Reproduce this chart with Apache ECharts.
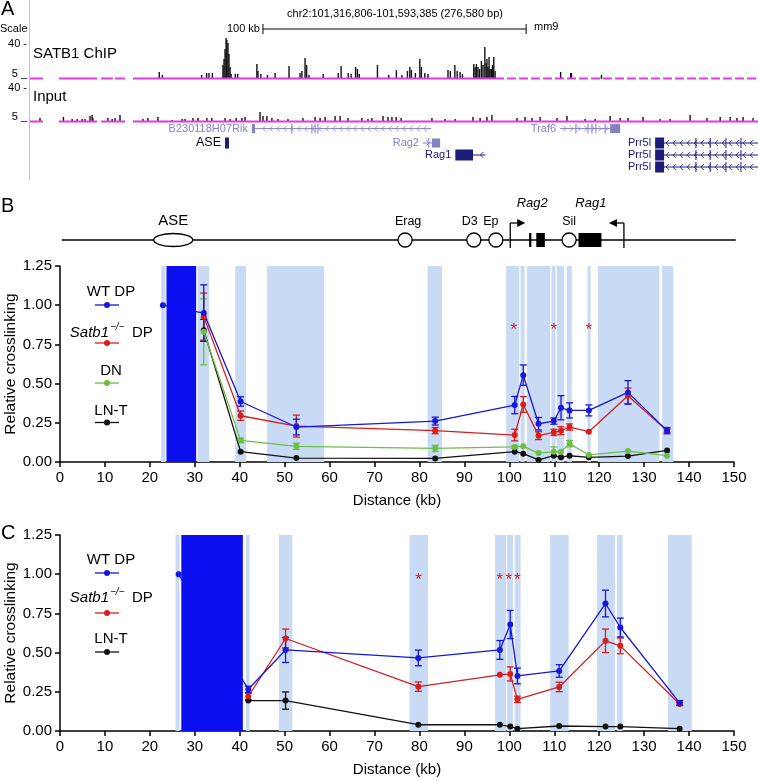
<!DOCTYPE html>
<html>
<head>
<meta charset="utf-8">
<script src="https://cdn.jsdelivr.net/npm/echarts@6/dist/echarts.min.js"></script>
<style>html,body{margin:0;padding:0;background:#fff}#main{width:758px;height:780px}</style>
</head>
<body>
<div id="main"></div>
<script>
var FONT = '"Liberation Sans", Arial, Helvetica, sans-serif';

// ---- panel A : browser window, positions in kb from window start, heights in track units
var winKb = 276.58;
var chipPeaks = [[49.1,7],[50.3,4],[65.2,4],[67.1,6],[68.0,6],[69.3,6],
  [73.3,14],[73.7,20],[74.1,30],[74.5,41],[74.8,39],[75.2,36],[75.6,25],[76.0,12],[76.4,5],
  [78.0,5],[78.9,5],[86.2,15],[86.6,8],[87.7,5],[90.2,4],[93.1,6],[98.4,13],
  [102.6,6],[103.3,8],[104.5,21],[105.1,14],[106.0,4],[111.4,5],[117.1,6],[118.2,13],
  [120.9,6],[122.0,5],[123.7,12],[124.4,10],[125.1,5],[132.0,14],[136.3,4],[139.2,9],
  [141.3,4],[143.4,8],[144.3,12],[144.9,9],[146.4,6],[148.1,20],[148.7,12],[150.0,6],[151.2,5],
  [158.8,9],[159.7,8],[161.4,14],[162.3,8],[163.4,7],[164.3,5],
  [168.6,15],[169.1,12],[169.6,15],[170.2,12],[170.8,10],[171.5,18],[172.1,14],[172.8,32],
  [173.3,16],[173.6,20],[174.0,12],[174.4,22],[174.8,10],[175.3,10],[175.7,14],[176.2,22],[176.7,8],
  [201.6,7],[205.4,6],[205.7,6],[217.1,4]];
var inputPeaks = [[3.8,4],[12.7,5],[16.0,3],[17.9,3],[19.8,3],[20.9,3],[22.8,6],[23.6,7],[23.9,4],
  [29.6,4],[31.2,3],[32.3,4],[34.2,7],[42.9,3],[44.8,4],[48.6,5],[54.0,2],[57.8,3],[58.9,3],
  [61.9,4],[63.8,4],[67.2,4],[69.1,4],[74.1,4],[76.0,3],[78.3,4],[80.5,4],[81.7,5],[87.4,10],
  [88.5,6],[90.0,6],[91.9,4],[94.2,3],[98.0,3],[103.7,4],[108.3,5],[110.2,4],[112.1,5],[115.9,6],
  [117.8,6],[120.8,4],[126.1,4],[128.4,3],[129.9,4],[134.1,6],[136.0,5],[137.5,5],[139.1,5],
  [141.0,4],[152.7,4],[157.7,3],[161.5,3],[168.3,5],[171.0,4],[173.6,5],[175.5,7],[185.0,4],
  [188.1,5],[190.7,4],[193.8,5],[200.2,4],[204.0,6],[210.9,3],[214.7,3],[220.4,6],[224.2,4],
  [227.2,4],[232.9,5],[239.4,3],[243.2,3],[250.8,7],[257.2,4],[262.2,5],[266.0,5],[268.6,4],
  [270.9,5],[274.7,4]];
var chipCover = [[0,4.9],[11.0,25.5],[27.0,31.5],[32.3,36.1],[39.1,176.7]];
var chipSparse = [[176.7,276.58]];
var inputCover = [[0,4.9],[11.0,25.5],[27.0,36.1],[39.1,276.58]];
var scaleBarKb = [88.5, 188.5];

var geneNames  = ['B230118H07Rik','ASE','Rag2','Rag1','Traf6','Prr5l','Prr5l','Prr5l'];
var geneStart  = [84.3, 74.1, 149.3, 161.6, 201.4, 237.5, 237.5, 237.5];
var geneEnd    = [152.4, 75.6, 155.8, 173.0, 224.2, 276.58, 276.58, 276.58];
var geneRow    = [0.8, 2, 2, 3, 0.8, 2, 3, 4];
var geneStrand = [-1, 0, 1, -1, 1, -1, -1, -1];
var geneDark   = [0, 1, 0, 1, 0, 1, 1, 1];
var exonStart  = [84.3, 74.1, 152.7, 161.6, 220.4, 237.5, 237.5, 237.5];
var exonEnd    = [85.5, 75.6, 155.8, 168.3, 224.2, 240.9, 240.9, 240.9];
var geneMarks  = [[99.5,107.1,108.3,109.4],[],[151.5],[],[207.4,212,213.5,215,218.5],
  [253,258.4,264.4,270.1],[253,258.4,264.4,270.1],[253,258.4,264.4,270.1]];

// ---- panel B schematic (kb, same axis as the plot)
var lineSpan  = [[0.4, 150.4]];
var featKb    = [25.2, 76.8, 92.1, 97.0, 113.3];
var featShape = ['ellipse','circle','circle','circle','circle'];
var featName  = ['ASE','Erag','D3','Ep','Sil'];
var featDx    = [0, 3, -4, -5, 0];
var exKbS = [104.4, 106.0, 115.4];
var exKbE = [104.9, 107.9, 120.5];
var tssKb = [100.2, 125.5];
var tssDir = [1, -1];
var tssName = ['Rag2','Rag1'];
var tssDx = [22, -33];

// ---- panel B data
var bAnchor = [22.9, 1.0];
var bDist  = [32.0, 40.2, 52.6, 83.5, 101.2, 103.1, 106.5, 109.9, 111.5, 113.4, 117.7, 126.4, 135.1];
var bWT    = [0.95, 0.386, 0.223, 0.261, 0.363, 0.554, 0.244, 0.261, 0.346, 0.329, 0.329, 0.444, 0.20];
var bWTerr = [0.18, 0.03, 0.05, 0.025, 0.055, 0.065, 0.04, 0.02, 0.077, 0.048, 0.035, 0.075, 0.02];
var bKO    = [0.927, 0.295, 0.229, 0.20, 0.172, 0.367, 0.168, 0.189, 0.20, 0.223, 0.193, 0.422, 0.20];
var bKOerr = [0.15, 0.03, 0.07, 0.02, 0.037, 0.05, 0.025, 0.02, 0.025, 0.02, 0, 0.05, 0.01];
var bDN    = [0.83, 0.138, 0.10, 0.087, 0.096, 0.10, 0.057, 0.066, 0.066, 0.117, 0.045, 0.07, 0.04];
var bDNerr = [0.21, 0.015, 0.02, 0.02, 0.01, 0, 0, 0.03, 0, 0.02, 0, 0, 0];
var bLN    = [0.84, 0.066, 0.025, 0.023, 0.066, 0.053, 0.013, 0.04, 0.03, 0.04, 0.03, 0.038, 0.074];
var bLNerr = [0.07, 0, 0, 0, 0, 0, 0, 0, 0, 0, 0, 0, 0];
var bBands = [[22.5,23.5],[30.6,33.2],[39.0,41.4],[46.1,58.8],[81.8,85.0],[99.3,102.2],[102.5,103.4],
  [103.9,109.1],[109.4,110.3],[110.6,112.2],[112.8,113.9],[117.4,118.1],[119.7,133.4],[134.0,136.5]];
var bBait = [[23.7, 30.3]];
var bStars = [101.0, 109.9, 117.7];
var bStarY = 0.86;

// ---- panel C data
var cAnchor = [26.4, 1.0];
var cDist  = [41.9, 50.2, 79.75, 97.9, 100.2, 101.8, 111.1, 121.4, 124.7, 137.9];
var cWT    = [0.266, 0.517, 0.466, 0.517, 0.679, 0.351, 0.383, 0.813, 0.66, 0.179];
var cWTerr = [0.02, 0.08, 0.05, 0.06, 0.09, 0.05, 0.04, 0.085, 0.06, 0.015];
var cKO    = [0.22, 0.59, 0.283, 0.358, 0.364, 0.202, 0.281, 0.575, 0.543, 0.172];
var cKOerr = [0.02, 0.06, 0.03, 0, 0.045, 0.02, 0.03, 0.075, 0.05, 0.01];
var cLN    = [0.194, 0.194, 0.04, 0.04, 0.028, 0.015, 0.032, 0.028, 0.028, 0.015];
var cLNerr = [0, 0.055, 0, 0, 0, 0, 0, 0, 0, 0];
var cBands = [[25.7,26.6],[41.4,42.2],[48.7,51.7],[77.8,81.9],[96.8,99.3],[99.5,100.8],[101.2,102.5],
  [109.1,113.2],[119.5,123.5],[124.0,125.2],[135.3,140.6]];
var cBait = [[27.0, 40.7]];
var cStars = [79.8, 97.9, 99.9, 101.8];
var cStarY = 0.98;

var C_WT = '#1717d9', C_KO = '#d41f1f', C_DN = '#6cbf46', C_LN = '#111111';
var BAND = '#c9daf4', BAIT = '#0b0ff0', MAG = '#e03ae0';
var NAVY = '#1b1b78', SLATE = '#8282c0';

function zip() {
  var a = arguments;
  return a[0].map(function (_, i) {
    return Array.prototype.map.call(a, function (arr) { return arr[i]; });
  });
}

function txt(x, y, s, size, o) {
  o = o || {};
  return {type: 'text', x: x, y: y, z: 20, silent: true,
    style: {text: s, fontSize: size, fontFamily: FONT, fill: o.fill || '#000',
      align: o.align || 'left', verticalAlign: o.va || 'middle',
      fontStyle: o.italic ? 'italic' : 'normal'}};
}

// peaks of the browser tracks
function peakItem(params, api) {
  var b = api.coord([api.value(0), 0]);
  var t = api.coord([api.value(0), api.value(1)]);
  return {type: 'rect', shape: {x: b[0] - 0.7, y: t[1], width: 1.4, height: b[1] - t[1]}, style: {fill: '#111'}};
}
function coverItem(dash) {
  return function (params, api) {
    var a = api.coord([api.value(0), 0]), b = api.coord([api.value(1), 0]);
    return {type: 'line', shape: {x1: a[0], y1: a[1] - 0.5, x2: b[0], y2: b[1] - 0.5},
      style: {stroke: MAG, lineWidth: 2, lineDash: dash}};
  };
}

function geneItem(params, api) {
  var i = params.dataIndex;
  var s = api.coord([geneStart[i], geneRow[i]]);
  var e = api.coord([geneEnd[i], geneRow[i]]);
  var y = s[1];
  var col = geneDark[i] ? NAVY : SLATE;
  var kids = [{type: 'line', shape: {x1: s[0], y1: y, x2: e[0], y2: y}, style: {stroke: col, lineWidth: 1}}];
  var es = api.coord([exonStart[i], 0])[0], ee = api.coord([exonEnd[i], 0])[0];
  var d = geneStrand[i];
  if (d !== 0) {
    for (var x = s[0] + 5; x < e[0] - 3; x += 7) {
      if (x > es - 3 && x < ee + 3) continue;
      kids.push({type: 'polyline', shape: {points: [[x - d * 2, y - 3], [x + d * 1, y], [x - d * 2, y + 3]]},
        style: {stroke: col, fill: null, lineWidth: 0.8}});
    }
  }
  geneMarks[i].forEach(function (k) {
    var mx = api.coord([k, 0])[0];
    kids.push({type: 'line', shape: {x1: mx, y1: y - 5, x2: mx, y2: y + 5}, style: {stroke: col, lineWidth: 1}});
  });
  var h = geneDark[i] ? 11 : 9;
  kids.push({type: 'rect', shape: {x: es, y: y - h / 2, width: Math.max(ee - es, 2), height: h}, style: {fill: col}});
  kids.push({type: 'text', x: s[0] - 4, y: y, style: {text: geneNames[i], fontSize: geneNames[i] === 'ASE' ? 12.5 : 11,
    fontFamily: FONT, fill: geneNames[i] === 'ASE' ? '#000' : col, align: 'right', verticalAlign: 'middle'}});
  return {type: 'group', children: kids};
}

function scaleItem(params, api) {
  var a = api.coord([api.value(0), 45]), b = api.coord([api.value(1), 45]);
  var y = a[1] - 5;
  var st = {stroke: '#000', lineWidth: 1};
  return {type: 'group', children: [
    {type: 'line', shape: {x1: a[0], y1: y, x2: b[0], y2: y}, style: st},
    {type: 'line', shape: {x1: a[0], y1: y - 5, x2: a[0], y2: y + 5}, style: st},
    {type: 'line', shape: {x1: b[0], y1: y - 5, x2: b[0], y2: y + 5}, style: st},
    {type: 'text', x: a[0] - 3, y: y, style: {text: '100 kb', fontSize: 11, fontFamily: FONT, fill: '#000', align: 'right', verticalAlign: 'middle'}}
  ]};
}

// schematic
function spanItem(params, api) {
  var a = api.coord([api.value(0), 0]), b = api.coord([api.value(1), 0]);
  return {type: 'line', shape: {x1: a[0], y1: a[1], x2: b[0], y2: b[1]}, style: {stroke: '#000', lineWidth: 1.5}};
}
function featItem(params, api) {
  var i = params.dataIndex;
  var p = api.coord([featKb[i], 0]);
  var st = {fill: '#fff', stroke: '#000', lineWidth: 1.3};
  var shape = featShape[i] === 'ellipse'
    ? {type: 'ellipse', shape: {cx: p[0], cy: p[1], rx: 19.5, ry: 6.5}, style: st}
    : {type: 'circle', shape: {cx: p[0], cy: p[1], r: 7}, style: st};
  var big = featShape[i] === 'ellipse';
  return {type: 'group', children: [shape,
    {type: 'text', x: p[0] + featDx[i], y: p[1] - (big ? 19 : 18), style: {text: featName[i], fontSize: big ? 15 : 12.5,
      fontFamily: FONT, fill: '#000', align: 'center', verticalAlign: 'middle'}}]};
}
function exonItem(params, api) {
  var a = api.coord([api.value(0), 0]), b = api.coord([api.value(1), 0]);
  return {type: 'rect', shape: {x: a[0], y: a[1] - 7, width: Math.max(b[0] - a[0], 2), height: 14}, style: {fill: '#000'}};
}
function tssItem(params, api) {
  var i = params.dataIndex;
  var p = api.coord([tssKb[i], 0]);
  var d = tssDir[i];
  var top = p[1] - 17, x0 = p[0];
  var st = {stroke: '#000', lineWidth: 1.3};
  return {type: 'group', children: [
    {type: 'line', shape: {x1: x0, y1: p[1] + 8, x2: x0, y2: top}, style: st},
    {type: 'line', shape: {x1: x0, y1: top, x2: x0 + d * 8, y2: top}, style: st},
    {type: 'polygon', shape: {points: [[x0 + d * 7, top - 4], [x0 + d * 15, top], [x0 + d * 7, top + 4]]}, style: {fill: '#000'}},
    {type: 'text', x: x0 + tssDx[i], y: p[1] - 37, style: {text: tssName[i], fontSize: 13, fontStyle: 'italic',
      fontFamily: FONT, fill: '#000', align: 'center', verticalAlign: 'middle'}}
  ]};
}

// plot pieces
function bandSeries(g, data, color, z) {
  return {type: 'custom', xAxisIndex: g, yAxisIndex: g, z: z, silent: true, data: data, encode: {x: [0, 1]},
    renderItem: function (params, api) {
      var a = api.coord([api.value(0), 1.25]), b = api.coord([api.value(1), 0]);
      return {type: 'rect', shape: {x: a[0], y: a[1], width: b[0] - a[0], height: b[1] - a[1]}, style: {fill: color}};
    }};
}
function errSeries(g, xs, ys, es, color) {
  return {type: 'custom', xAxisIndex: g, yAxisIndex: g, z: 3, silent: true, data: zip(xs, ys, es), encode: {x: 0, y: 1},
    renderItem: function (params, api) {
      var x = api.value(0), y = api.value(1), e = api.value(2);
      if (!e) return null;
      var t = api.coord([x, y + e]), b = api.coord([x, y - e]), w = 3.5;
      var st = {stroke: color, lineWidth: 1.3};
      return {type: 'group', children: [
        {type: 'line', shape: {x1: t[0], y1: t[1], x2: b[0], y2: b[1]}, style: st},
        {type: 'line', shape: {x1: t[0] - w, y1: t[1], x2: t[0] + w, y2: t[1]}, style: st},
        {type: 'line', shape: {x1: b[0] - w, y1: b[1], x2: b[0] + w, y2: b[1]}, style: st}]};
    }};
}
function lineSeries(g, pts, color) {
  return {type: 'line', xAxisIndex: g, yAxisIndex: g, z: 4, silent: true, data: pts, symbol: 'circle', symbolSize: 6,
    itemStyle: {color: color}, lineStyle: {color: color, width: 1.3}};
}
function starSeries(g, xs, y) {
  return {type: 'custom', xAxisIndex: g, yAxisIndex: g, z: 6, silent: true, data: xs.map(function (x) { return [x, y]; }),
    encode: {x: 0, y: 1},
    renderItem: function (params, api) {
      var p = api.coord([api.value(0), api.value(1)]);
      return {type: 'text', x: p[0], y: p[1] + 3, style: {text: '*', fontSize: 17, fontFamily: FONT, fill: C_KO,
        align: 'center', verticalAlign: 'middle'}};
    }};
}

function plotAxes(g) {
  var line = {show: true, lineStyle: {color: '#000', width: 1.5}};
  var tick = {show: true, length: 5, lineStyle: {color: '#000', width: 1.5}};
  var lab = {color: '#000', fontSize: 15, fontFamily: FONT};
  return {
    x: {gridIndex: g, type: 'value', min: 0, max: 150, interval: 10, axisLine: line, axisTick: tick,
      axisLabel: Object.assign({margin: 8}, lab), splitLine: {show: false},
      name: 'Distance (kb)', nameLocation: 'middle', nameGap: 31, nameMoveOverlap: false, nameTextStyle: lab},
    y: {gridIndex: g, type: 'value', min: 0, max: 1.25, interval: 0.25, axisLine: line, axisTick: tick,
      axisLabel: Object.assign({margin: 8, formatter: function (v) { return v.toFixed(2); }}, lab),
      splitLine: {show: false},
      name: 'Relative crosslinking', nameLocation: 'middle', nameGap: 41, nameRotate: 90, nameMoveOverlap: false,
      nameTextStyle: {color: '#000', fontSize: 15.5, fontFamily: FONT}}
  };
}
function hidden(g, min, max, inv) {
  return {gridIndex: g, type: 'value', min: min, max: max, show: false, inverse: !!inv, splitLine: {show: false}};
}

var axB = plotAxes(4), axC = plotAxes(5);

function legItem(yt, ys, color, label) {
  var out = [
    {type: 'line', z: 20, silent: true, shape: {x1: 95, y1: ys, x2: 119, y2: ys}, style: {stroke: color, lineWidth: 1.3}},
    {type: 'circle', z: 21, silent: true, shape: {cx: 107, cy: ys, r: 3}, style: {fill: color}}
  ];
  if (label === 'Satb1') {
    out.push(txt(109, yt, 'Satb1', 15, {align: 'right', italic: true}));
    out.push(txt(110, yt - 6, '\u2212/\u2212', 10, {italic: true}));
    out.push(txt(132, yt, 'DP', 15));
  } else {
    out.push(txt(111, yt, label, 15, {align: 'center'}));
  }
  return out;
}

var graphics = [
  {type: 'line', silent: true, z: 1, shape: {x1: 29.5, y1: 0, x2: 29.5, y2: 180}, style: {stroke: '#f0b0b0', lineWidth: 1}},
  txt(1, 9, 'A', 20), txt(1, 206, 'B', 20), txt(1, 533, 'C', 20),
  txt(0, 29, 'Scale', 11),
  txt(395, 14, 'chr2:101,316,806-101,593,385 (276,580 bp)', 11, {align: 'center'}),
  txt(534, 27, 'mm9', 11),
  txt(27, 44, '40 -', 11, {align: 'right'}), txt(27, 74, '5 _', 11, {align: 'right'}),
  txt(27, 88, '40 -', 11, {align: 'right'}), txt(27, 117, '5 _', 11, {align: 'right'}),
  txt(33, 54, 'SATB1 ChIP', 15), txt(33, 97, 'Input', 15)
].concat(
  legItem(292, 305, C_WT, 'WT DP'), legItem(333, 343, C_KO, 'Satb1'),
  legItem(371, 383, C_DN, 'DN'), legItem(411, 422.5, C_LN, 'LN-T'),
  legItem(560, 573, C_WT, 'WT DP'), legItem(598, 613, C_KO, 'Satb1'), legItem(639, 652, C_LN, 'LN-T')
);

function gridBox(o) {
  o.containLabel = false;
  o.outerBoundsMode = 'none';
  return o;
}

var option = {
  animation: false,
  backgroundColor: '#fff',
  textStyle: {fontFamily: FONT},
  grid: [
    gridBox({left: 30, width: 728, top: 34, height: 45}),
    gridBox({left: 30, width: 728, top: 77, height: 45}),
    gridBox({left: 30, width: 728, top: 119, height: 60}),
    gridBox({left: 60, width: 674, top: 210, height: 60}),
    gridBox({left: 60, width: 674, top: 266, height: 196}),
    gridBox({left: 60, width: 674, top: 535, height: 196})
  ],
  xAxis: [hidden(0, 0, winKb), hidden(1, 0, winKb), hidden(2, 0, winKb), hidden(3, 0, 150), axB.x, axC.x],
  yAxis: [hidden(0, 0, 45), hidden(1, 0, 45), hidden(2, 0, 5, true), hidden(3, -1, 1), axB.y, axC.y],
  graphic: graphics,
  series: [
    {type: 'custom', xAxisIndex: 0, yAxisIndex: 0, z: 2, silent: true, data: chipPeaks, encode: {x: 0, y: 1}, renderItem: peakItem},
    {type: 'custom', xAxisIndex: 0, yAxisIndex: 0, z: 3, silent: true, data: chipCover, encode: {x: [0, 1]}, renderItem: coverItem(null)},
    {type: 'custom', xAxisIndex: 0, yAxisIndex: 0, z: 3, silent: true, data: chipSparse, encode: {x: [0, 1]}, renderItem: coverItem([9, 3])},
    {type: 'custom', xAxisIndex: 0, yAxisIndex: 0, z: 3, silent: true, data: [scaleBarKb], encode: {x: [0, 1]}, renderItem: scaleItem},
    {type: 'custom', xAxisIndex: 1, yAxisIndex: 1, z: 2, silent: true, data: inputPeaks, encode: {x: 0, y: 1}, renderItem: peakItem},
    {type: 'custom', xAxisIndex: 1, yAxisIndex: 1, z: 3, silent: true, data: inputCover, encode: {x: [0, 1]}, renderItem: coverItem(null)},
    {type: 'custom', xAxisIndex: 2, yAxisIndex: 2, z: 3, silent: true,
      data: zip(geneStart, geneEnd, geneRow), encode: {x: [0, 1], y: 2}, renderItem: geneItem},

    {type: 'custom', xAxisIndex: 3, yAxisIndex: 3, z: 2, silent: true, data: lineSpan, encode: {x: [0, 1]}, renderItem: spanItem},
    {type: 'custom', xAxisIndex: 3, yAxisIndex: 3, z: 3, silent: true, data: zip(exKbS, exKbE), encode: {x: [0, 1]}, renderItem: exonItem},
    {type: 'custom', xAxisIndex: 3, yAxisIndex: 3, z: 3, silent: true, data: tssKb.map(function (k) { return [k, 0]; }), encode: {x: 0, y: 1}, renderItem: tssItem},
    {type: 'custom', xAxisIndex: 3, yAxisIndex: 3, z: 4, silent: true, data: featKb.map(function (k) { return [k, 0]; }), encode: {x: 0, y: 1}, renderItem: featItem},

    bandSeries(4, bBands, BAND, 1),
    errSeries(4, bDist, bLN, bLNerr, C_LN), lineSeries(4, zip(bDist, bLN), C_LN),
    errSeries(4, bDist, bDN, bDNerr, C_DN), lineSeries(4, zip(bDist, bDN), C_DN),
    errSeries(4, bDist, bKO, bKOerr, C_KO), lineSeries(4, zip(bDist, bKO), C_KO),
    errSeries(4, bDist, bWT, bWTerr, C_WT), lineSeries(4, [bAnchor].concat(zip(bDist, bWT)), C_WT),
    bandSeries(4, bBait, BAIT, 8),
    starSeries(4, bStars, bStarY),

    bandSeries(5, cBands, BAND, 1),
    errSeries(5, cDist, cLN, cLNerr, C_LN), lineSeries(5, zip(cDist, cLN), C_LN),
    errSeries(5, cDist, cKO, cKOerr, C_KO), lineSeries(5, zip(cDist, cKO), C_KO),
    errSeries(5, cDist, cWT, cWTerr, C_WT), lineSeries(5, [cAnchor].concat(zip(cDist, cWT)), C_WT),
    bandSeries(5, cBait, BAIT, 8),
    starSeries(5, cStars, cStarY)
  ]
};

var chart = echarts.init(document.getElementById('main'));
chart.setOption(option);
</script>
</body>
</html>
